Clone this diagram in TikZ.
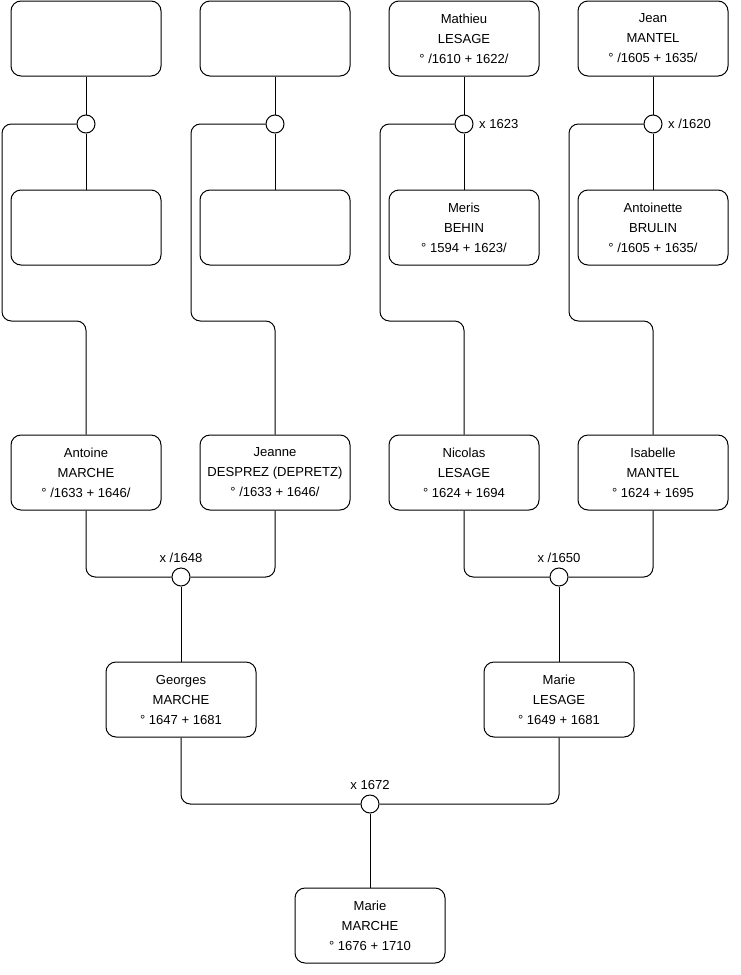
\documentclass[tikz,border=0pt]{standalone}
\usepackage{fontspec}
\setmainfont{Liberation Sans}
\usetikzlibrary{positioning}

\tikzset{
  person/.style={draw, line width=0.75pt, rounded corners=7.5pt, minimum width=112.5pt,
    minimum height=56.25pt, align=center, inner sep=0pt, font=\fontsize{9.8}{15}\selectfont},
  union/.style={draw, circle, line width=0.75pt, minimum size=13.5pt, inner sep=0pt, fill=white},
  link/.style={line width=0.75pt, rounded corners=7pt},
  datelbl/.style={inner sep=1pt, font=\fontsize{9.8}{11}\selectfont}
}

\begin{document}
\begin{tikzpicture}[x=0.75pt, y=-0.75pt]
  \useasboundingbox (0,0) rectangle (740,975);

  % great-grandparents
  \node[person] (anc1) at (86,38.5) {};
  \node[person] (anc3) at (275,38.5) {};
  \node[person] (mathieu) at (464,38.5) {Mathieu\\LESAGE\\° /1610 + 1622/};
  \node[person] (jean) at (653,38.5) {Jean\\MANTEL\\° /1605 + 1635/};

  \node[union] (u1) at (86,124) {};
  \node[union] (u2) at (275,124) {};
  \node[union] (u3) at (464,124) {};
  \node[union] (u4) at (653,124) {};
  \node[datelbl, right=3pt of u3] (d3) {x 1623};
  \node[datelbl, right=3pt of u4] (d4) {x /1620};

  \node[person] (anc2) at (86,227.5) {};
  \node[person] (anc4) at (275,227.5) {};
  \node[person] (meris) at (464,227.5) {Meris\\BEHIN\\° 1594 + 1623/};
  \node[person] (antoinette) at (653,227.5) {Antoinette\\BRULIN\\° /1605 + 1635/};

  % grandparents
  \node[person] (antoine) at (86,472.5) {Antoine\\MARCHE\\° /1633 + 1646/};
  \node[person] (jeanne) at (275,472.5) {Jeanne\\DESPREZ (DEPRETZ)\\° /1633 + 1646/};
  \node[person] (nicolas) at (464,472.5) {Nicolas\\LESAGE\\° 1624 + 1694};
  \node[person] (isabelle) at (653,472.5) {Isabelle\\MANTEL\\° 1624 + 1695};

  \node[union] (u5) at (181,577) {};
  \node[union] (u6) at (559,577) {};
  \node[datelbl, above=2.5pt of u5] (d5) {x /1648};
  \node[datelbl, above=2.5pt of u6] (d6) {x /1650};

  % parents
  \node[person] (georges) at (181,699.5) {Georges\\MARCHE\\° 1647 + 1681};
  \node[person] (marieL) at (559,699.5) {Marie\\LESAGE\\° 1649 + 1681};

  \node[union] (u7) at (370,804) {};
  \node[datelbl, above=2.5pt of u7] (d7) {x 1672};

  \node[person] (marie) at (370,925.5) {Marie\\MARCHE\\° 1676 + 1710};

  % couples at the top
  \draw[link] (anc1.south) -- (u1.north);
  \draw[link] (u1.south) -- (anc2.north);
  \draw[link] (anc3.south) -- (u2.north);
  \draw[link] (u2.south) -- (anc4.north);
  \draw[link] (mathieu.south) -- (u3.north);
  \draw[link] (u3.south) -- (meris.north);
  \draw[link] (jean.south) -- (u4.north);
  \draw[link] (u4.south) -- (antoinette.north);

  % children of the top couples
  \draw[link] (u1.west) -| (2,321) -| (antoine.north);
  \draw[link] (u2.west) -| (191,321) -| (jeanne.north);
  \draw[link] (u3.west) -| (380,321) -| (nicolas.north);
  \draw[link] (u4.west) -| (569,321) -| (isabelle.north);

  % grandparents' marriages
  \draw[link] (antoine.south) |- (u5.west);
  \draw[link] (jeanne.south) |- (u5.east);
  \draw[link] (u5.south) -- (georges.north);
  \draw[link] (nicolas.south) |- (u6.west);
  \draw[link] (isabelle.south) |- (u6.east);
  \draw[link] (u6.south) -- (marieL.north);

  % parents' marriage
  \draw[link] (georges.south) |- (u7.west);
  \draw[link] (marieL.south) |- (u7.east);
  \draw[link] (u7.south) -- (marie.north);

\end{tikzpicture}
\end{document}
